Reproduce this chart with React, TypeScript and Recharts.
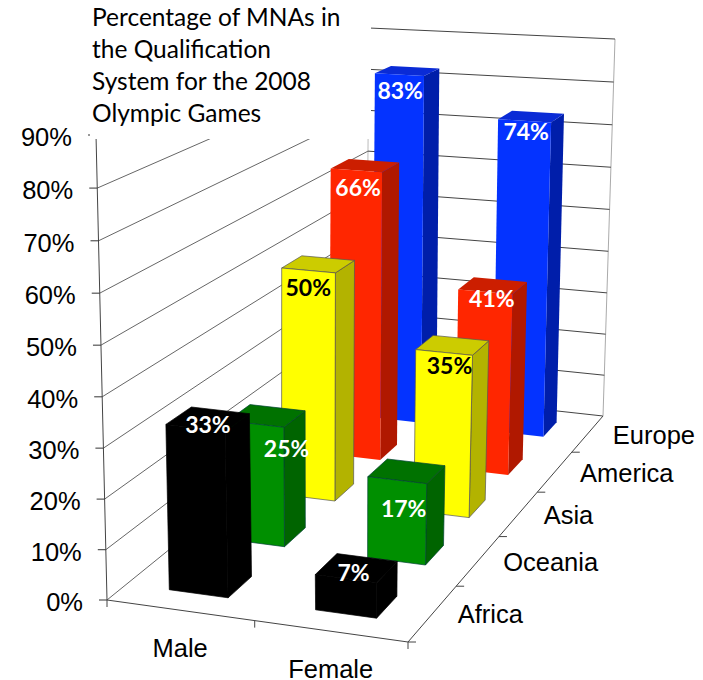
import { BarChart, Bar, XAxis, YAxis, CartesianGrid, Customized } from "recharts";

/* ── Data, back row first so nearer bars paint over farther ones ── */
const regions = ["Europe", "America", "Asia", "Oceania", "Africa"];
const maleValues = [82.5, 65.6, 49.8, 25, 33];
const femaleValues = [73.5, 40.8, 35, 16.8, 7];
const genders = ["Male", "Female"];
const yTicks = [0, 10, 20, 30, 40, 50, 60, 70, 80, 90];
const titleLines = [
  "Percentage of MNAs in",
  "the Qualification",
  "System for the 2008",
  "Olympic Games",
];

const rows = regions.map((region, i) => ({
  region,
  male: maleValues[i],
  female: femaleValues[i],
}));

const faceColors: Record<string, { front: string; side: string; top: string; edge: string; label: string }> = {
  Europe: { front: "#0433FF", side: "#001EAA", top: "#0A2BD6", edge: "none", label: "#fff" },
  America: { front: "#FF2600", side: "#B01800", top: "#CC1E00", edge: "none", label: "#fff" },
  Asia: { front: "#FFFF00", side: "#B3B300", top: "#CCCC00", edge: "#555", label: "#000" },
  Oceania: { front: "#008F00", side: "#006400", top: "#007200", edge: "#043", label: "#fff" },
  Africa: { front: "#000", side: "#000", top: "#000", edge: "#000", label: "#fff" },
};

/* nudges of the value labels from the middle of each bar's top */
const labelNudge: Record<string, [number, number][]> = {
  male: [[-7, 19], [-7, 22], [-10, 23], [20, 32], [0, 5]],
  female: [[-5, 14], [-1, 12], [-3, 20], [-3, 37], [-3, 4]],
};

const W = 703;
const H = 680;
const BAR_SHARE = 0.405;
const PERSPECTIVE = 0.97;

type Pt = [number, number];

/* unit square -> picture quad */
function homography(p0: Pt, p1: Pt, p2: Pt, p3: Pt) {
  const dx1 = p1[0] - p2[0];
  const dx2 = p3[0] - p2[0];
  const sx = p0[0] - p1[0] + p2[0] - p3[0];
  const dy1 = p1[1] - p2[1];
  const dy2 = p3[1] - p2[1];
  const sy = p0[1] - p1[1] + p2[1] - p3[1];
  const den = dx1 * dy2 - dx2 * dy1;
  const g = (sx * dy2 - dx2 * sy) / den;
  const h = (dx1 * sy - sx * dy1) / den;
  const a = p1[0] - p0[0] + g * p1[0];
  const b = p3[0] - p0[0] + h * p3[0];
  const d = p1[1] - p0[1] + g * p1[1];
  const e = p3[1] - p0[1] + h * p3[1];
  return (u: number, v: number): Pt => {
    const q = g * u + h * v + 1;
    return [(a * u + b * v + p0[0]) / q, (d * u + e * v + p0[1]) / q];
  };
}

const floorAt = homography([107, 600], [408, 642], [603, 416], [366, 390]);
const ceilAt = homography([96, 135], [414, 164], [615, 39], [369, 28]);

function project(u: number, v: number, w: number): Pt {
  const f = floorAt(u, v);
  const c = ceilAt(u, v);
  const t = (w * PERSPECTIVE) / (1 - w + w * PERSPECTIVE);
  return [f[0] + (c[0] - f[0]) * t, f[1] + (c[1] - f[1]) * t];
}

const poly = (pts: Pt[]) => pts.map((p) => `${p[0].toFixed(1)},${p[1].toFixed(1)}`).join(" ");

function seg(a: Pt, b: Pt, stroke: string) {
  return <line x1={a[0]} y1={a[1]} x2={b[0]} y2={b[1]} stroke={stroke} strokeWidth={1} />;
}

/* The band and the slot inside it come from the x scale: band = depth, slot = Male/Female */
function Box3D(props: any) {
  const { x, width, height, payload, value, dataKey } = props;
  const bandW = W / regions.length;
  const mid = x + width / 2;
  const band = Math.floor(mid / bandW);
  const uc = (mid - band * bandW) / bandW;
  const vc = 1 - (band + 0.5) / regions.length;
  const hu = (BAR_SHARE * 0.5) / 2;
  const hv = (0.4 * (1 / regions.length)) / 2;
  const w = height / H;
  const u0 = uc - hu;
  const u1 = uc + hu;
  const v0 = vc - hv;
  const v1 = vc + hv;
  const c = faceColors[payload.region];
  const nudge = labelNudge[dataKey][band];
  const center = project(uc, vc, w);
  return (
    <g>
      <polygon
        points={poly([project(u1, v0, 0), project(u1, v1, 0), project(u1, v1, w), project(u1, v0, w)])}
        fill={c.side}
        stroke={c.edge}
        strokeWidth={0.7}
      />
      <polygon
        points={poly([project(u0, v0, w), project(u1, v0, w), project(u1, v1, w), project(u0, v1, w)])}
        fill={c.top}
        stroke={c.edge}
        strokeWidth={0.7}
      />
      <polygon
        points={poly([project(u0, v0, 0), project(u1, v0, 0), project(u1, v0, w), project(u0, v0, w)])}
        fill={c.front}
        stroke={c.edge}
        strokeWidth={0.7}
      />
      <text
        x={center[0] + nudge[0]}
        y={center[1] + nudge[1]}
        textAnchor="middle"
        dominantBaseline="central"
        fontFamily="Lato"
        fontWeight={700}
        fontSize={23}
        fill={c.label}
      >
        {Math.round(value)}%
      </text>
    </g>
  );
}

/* Wall lines hang on the grid so they stay behind the bars */
function wallLine(props: any) {
  const w = 1 - props.y1 / H;
  return (
    <g key={`wall-${props.y1}`}>
      {seg(project(0, 0, w), project(0, 1, w), "#666")}
      {seg(project(0, 1, w), project(1, 1, w), "#444")}
      {w === 0 && seg(project(0, 1, 0), project(0, 1, 1), "#bbb")}
      {w === 0 && seg(project(1, 1, 0), project(1, 1, 1), "#aaa")}
    </g>
  );
}

function ValueTick(props: any) {
  const { y, payload } = props;
  const w = 1 - y / H;
  const p = project(0, 0, w);
  return (
    <g>
      {seg(p, [p[0] - 8, p[1]], "#333")}
      <text
        x={p[0] - 24}
        y={p[1] + 2}
        textAnchor="end"
        dominantBaseline="central"
        fontFamily="Liberation Sans"
        fontSize={25.5}
        fill="#000"
      >
        {payload.value}%
      </text>
    </g>
  );
}

function RegionTick(props: any) {
  const { x, payload } = props;
  const v = 1 - x / W;
  const p = floorAt(1, v);
  return (
    <text
      x={p[0] + 25}
      y={p[1] + 1}
      textAnchor="start"
      dominantBaseline="central"
      fontFamily="Liberation Sans"
      fontSize={25.5}
      fill="#000"
    >
      {payload.value}
    </text>
  );
}

function FloorFrame() {
  return (
    <g>
      {seg(project(0, 0, 0), project(0, 0, 1), "#444")}
      {seg(floorAt(0, 0), floorAt(1, 0), "#444")}
      {seg(floorAt(1, 0), floorAt(1, 1), "#444")}
      {[0, 0.5, 1].map((u) => {
        const p = floorAt(u, 0);
        return <g key={u}>{seg(p, [p[0], p[1] + 7], "#444")}</g>;
      })}
      {regions.map((_, i) => {
        const p = floorAt(1, i / regions.length);
        return <g key={i}>{seg(p, [p[0] + 8, p[1]], "#444")}</g>;
      })}
      {genders.map((g, i) => {
        const p = floorAt(0.25 + i * 0.5, 0);
        return (
          <text
            key={g}
            x={p[0]}
            y={p[1] + 38}
            textAnchor="middle"
            dominantBaseline="central"
            fontFamily="Liberation Sans"
            fontSize={25.5}
            fill="#000"
          >
            {g}
          </text>
        );
      })}
    </g>
  );
}

export default function App() {
  return (
    <div style={{ position: "fixed", left: 0, top: 0, width: W, height: H, background: "#fff" }}>
      <BarChart
        width={W}
        height={H}
        data={rows}
        margin={{ top: 0, right: 0, bottom: -1, left: -1 }}
        barCategoryGap={0}
        barGap={0}
      >
        <CartesianGrid horizontal={wallLine} vertical={false} syncWithTicks />
        <XAxis dataKey="region" height={1} axisLine={false} tickLine={false} interval={0} tick={<RegionTick />} />
        <YAxis
          width={1}
          domain={[0, 90]}
          ticks={yTicks}
          interval={0}
          axisLine={false}
          tickLine={false}
          tick={<ValueTick />}
        />
        <Bar dataKey="male" shape={Box3D} isAnimationActive={false} />
        <Bar dataKey="female" shape={Box3D} isAnimationActive={false} />
        <Customized component={FloorFrame} />
      </BarChart>
      <div
        style={{
          position: "absolute",
          left: 90,
          top: 0,
          width: 281,
          height: 139,
          background: "#fff",
          fontFamily: "Lato",
          fontSize: 24.5,
          lineHeight: "32px",
          color: "#000",
          paddingLeft: 2,
          paddingTop: 1,
          boxSizing: "border-box",
          whiteSpace: "nowrap",
        }}
      >
        {titleLines.map((line) => (
          <div key={line}>{line}</div>
        ))}
      </div>
    </div>
  );
}
